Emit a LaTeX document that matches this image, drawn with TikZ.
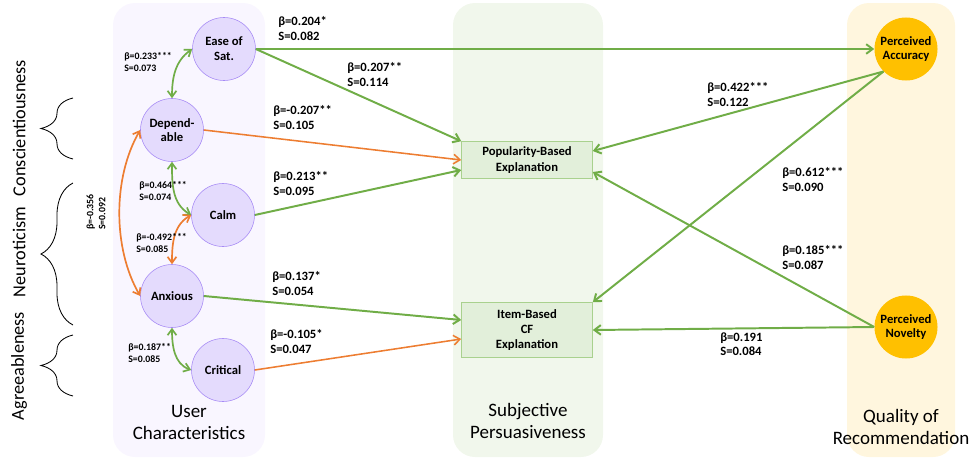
\documentclass[tikz,border=0pt]{standalone}
\usepackage{fontspec}
\setmainfont{Carlito}
\usetikzlibrary{arrows.meta,calc,decorations.pathreplacing}
\definecolor{pathgreen}{HTML}{70AD47}
\definecolor{pathorange}{HTML}{ED7D31}
\definecolor{traitline}{HTML}{A68AF5}
\definecolor{traitfill}{HTML}{E4DBFD}
\definecolor{qualityfill}{HTML}{FFC000}
\definecolor{explline}{HTML}{A9D18E}
\definecolor{explfill}{HTML}{E2EFDA}
\definecolor{userbg}{HTML}{F9F6FF}
\definecolor{persbg}{HTML}{F1F7EC}
\definecolor{qualbg}{HTML}{FFF6DE}
\begin{document}
\begin{tikzpicture}[x=0.025cm, y=0.025cm,
		trait/.style={circle, draw=traitline, fill=traitfill, minimum size=1.575cm, inner sep=0pt, align=center, font=\bfseries\fontsize{9}{10.5}\selectfont},
		quality/.style={circle, fill=qualityfill, minimum size=1.575cm, inner sep=0pt, align=center, font=\bfseries\fontsize{9}{10.5}\selectfont},
		explbox/.style={rectangle, draw=explline, fill=explfill, minimum width=3.275cm, inner sep=0pt, align=center, font=\bfseries\fontsize{9}{10.8}\selectfont},
		coef/.style={anchor=north west, inner sep=0pt, align=left, font=\bfseries\fontsize{9}{10.6}\selectfont},
		smallcoef/.style={coef, font=\bfseries\fontsize{7}{8.5}\selectfont},
		title/.style={anchor=north, inner sep=0pt, align=center, font=\fontsize{13.5}{15.5}\selectfont},
		trait label/.style={rotate=90, inner sep=0pt, font=\fontsize{13}{15}\selectfont},
		panel/.style={rounded corners=0.55cm},
		bracket/.style={decorate, decoration={brace, amplitude=0.8cm}, line width=0.6pt},
		posarrow/.style={draw=pathgreen, line width=1.4pt, -{Straight Barb[length=1.6mm,width=2.4mm]}},
		negarrow/.style={draw=pathorange, line width=1.1pt, -{Straight Barb[length=1.6mm,width=2.4mm]}},
		poscorr/.style={draw=pathgreen, line width=1.2pt, {Straight Barb[length=1.5mm,width=2.2mm]}-{Straight Barb[length=1.5mm,width=2.2mm]}},
		negcorr/.style={draw=pathorange, line width=1.2pt, {Straight Barb[length=1.5mm,width=2.2mm]}-{Straight Barb[length=1.5mm,width=2.2mm]}}]

	\useasboundingbox (0,0) rectangle (974,-460);

	\fill [userbg, panel] (113,-3) rectangle (265,-457);
	\fill [persbg, panel] (453,-3) rectangle (603,-457);
	\fill [qualbg, panel] (847,-3) rectangle (955,-457);

	\node [title] (usertitle) at (189,-405) {User\\Characteristics};
	\node [title] (perstitle) at (528,-403) {Subjective\\Persuasiveness};
	\node [title] (qualtitle) at (901,-409) {Quality of\\Recommendation};

	\draw [bracket] (73,-159) -- (73,-98);
	\draw [bracket] (73,-325) -- (73,-183);
	\draw [bracket] (73,-396) -- (73,-335);
	\node [trait label] (consc) at (19,-128) {Conscientiousness};
	\node [trait label] (neuro) at (19,-252) {Neuroticism};
	\node [trait label] (agree) at (19,-366) {Agreeableness};

	\node [trait] (ease) at (224,-49) {Ease of\\Sat.};
	\node [trait] (dep) at (172,-130) {Depend-\\able};
	\node [trait] (calm) at (223,-215) {Calm};
	\node [trait] (anx) at (172,-296) {Anxious};
	\node [trait] (crit) at (223,-370) {Critical};

	\node [explbox, minimum height=0.925cm] (pop) at (527,-160) {Popularity-Based\\Explanation};
	\node [explbox, minimum height=1.375cm] (ibcf) at (527,-330) {Item-Based\\CF\\Explanation};

	\node [quality] (acc) at (906,-49) {Perceived\\Accuracy};
	\node [quality] (nov) at (906,-327) {Perceived\\Novelty};

	\draw [poscorr] (dep.north) to [out=90, in=215] (ease.west);
	\draw [poscorr] (dep.south) to [out=-90, in=150] (calm.west);
	\draw [negcorr] (anx.north) to [out=90, in=210] (calm.west);
	\draw [poscorr] (anx.south) to [out=-90, in=160] (crit.west);
	\draw [negcorr] (dep.west) to [out=240, in=120, looseness=0.85] (anx.west);

	\node [smallcoef] (c1) at (124,-52) {β=0.233***\\S=0.073};
	\node [smallcoef] (c2) at (139,-181) {β=0.464***\\S=0.074};
	\node [smallcoef] (c3) at (136,-233) {β=-0.492***\\S=0.085};
	\node [smallcoef] (c4) at (128,-343) {β=0.187**\\S=0.085};
	\node [smallcoef, anchor=center, rotate=90] (c5) at (96,-212) {β=-0.356\\S=0.092};

	\draw [posarrow] (ease.east) -- (acc.west);
	\draw [posarrow] (ease.east) -- (pop.north west);
	\draw [negarrow] (dep.east) -- (pop.west);
	\draw [posarrow] (calm.east) -- ($(pop.west)+(0,-10)$);
	\draw [posarrow] (anx.east) -- ($(ibcf.west)+(0,10)$);
	\draw [negarrow] (crit.east) -- ($(ibcf.west)+(0,-9)$);
	\draw [posarrow] (acc.south west) -- ($(pop.east)+(0,9)$);
	\draw [posarrow] (acc.south west) -- (ibcf.north east);
	\draw [posarrow] (nov.west) -- ($(pop.east)+(0,-12)$);
	\draw [posarrow] (nov.west) -- (ibcf.east);

	\node [coef] (l1) at (278,-16) {β=0.204*\\S=0.082};
	\node [coef] (l2) at (347,-62) {β=0.207**\\S=0.114};
	\node [coef] (l3) at (273,-105) {β=-0.207**\\S=0.105};
	\node [coef] (l4) at (273,-171) {β=0.213**\\S=0.095};
	\node [coef] (l5) at (272,-271) {β=0.137*\\S=0.054};
	\node [coef] (l6) at (270,-329) {β=-0.105*\\S=0.047};
	\node [coef] (l7) at (707,-82) {β=0.422***\\S=0.122};
	\node [coef] (l8) at (782,-167) {β=0.612***\\S=0.090};
	\node [coef] (l9) at (782,-245) {β=0.185***\\S=0.087};
	\node [coef] (l10) at (720,-332) {β=0.191\\S=0.084};
\end{tikzpicture}
\end{document}
